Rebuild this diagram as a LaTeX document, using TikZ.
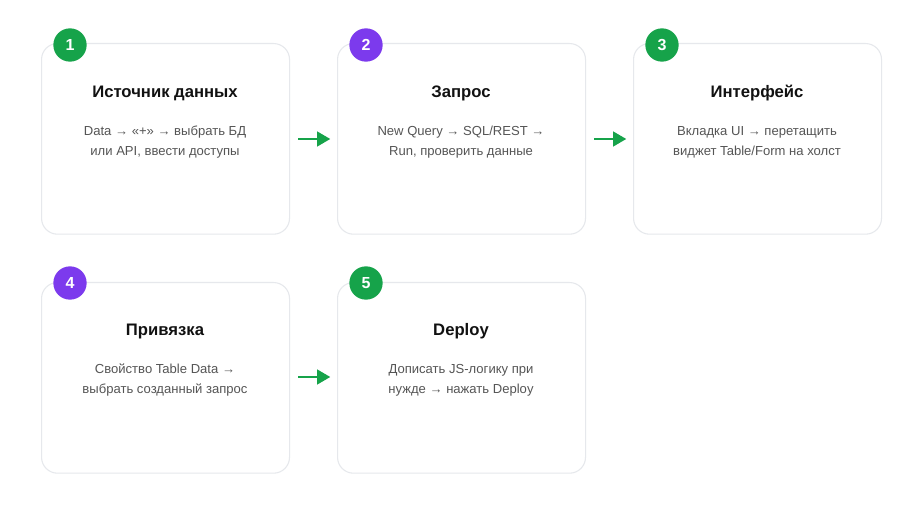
\documentclass[tikz,border=0pt]{standalone}
\usepackage{fontspec}
\setmainfont{Liberation Sans}
\usetikzlibrary{arrows.meta, positioning}
\definecolor{stepgreen}{RGB}{22,163,74}
\definecolor{steppurple}{RGB}{124,58,237}
\definecolor{cardline}{RGB}{230,232,236}
\definecolor{titletext}{RGB}{17,17,17}
\definecolor{bodytext}{RGB}{85,85,85}
\tikzset{
  card/.style={draw=cardline, line width=0.8pt, fill=white, rounded corners=12pt,
    minimum width=186pt, minimum height=143pt, anchor=north west},
  badge/.style={circle, fill=#1, text=white, font=\bfseries\fontsize{12}{14}\selectfont,
    minimum size=25pt, inner sep=0pt},
  title/.style={font=\bfseries\fontsize{12.5}{14}\selectfont, text=titletext},
  body/.style={font=\fontsize{9.8}{15}\selectfont, text=bodytext, align=center},
  flow/.style={-{Triangle[length=10pt,width=11pt]}, line width=2pt, stepgreen, shorten <=6pt, shorten >=5pt}
}
\begin{document}
\begin{tikzpicture}[x=0.75pt, y=-0.75pt]
    \useasboundingbox[fill=white] (0,0) rectangle (922,516);
    % Cards
    \node[card] (c1) at (41,43) {};
    \node[card] (c2) at (337,43) {};
    \node[card] (c3) at (633,43) {};
    \node[card] (c4) at (41,282) {};
    \node[card] (c5) at (337,282) {};
    % Badges
    \node[badge=stepgreen] (b1) at (70,45) {1};
    \node[badge=steppurple] (b2) at (366,45) {2};
    \node[badge=stepgreen] (b3) at (662,45) {3};
    \node[badge=steppurple] (b4) at (70,283) {4};
    \node[badge=stepgreen] (b5) at (366,283) {5};
    % Titles
    \node[title] (t1) at (165,93) {Источник данных};
    \node[title] (t2) at (461,93) {Запрос};
    \node[title] (t3) at (757,93) {Интерфейс};
    \node[title] (t4) at (165,331) {Привязка};
    \node[title] (t5) at (461,331) {Deploy};
    % Descriptions
    \node[body] (d1) at (165,142) {Data → «+» → выбрать БД\\или API, ввести доступы};
    \node[body] (d2) at (461,142) {New Query → SQL/REST →\\Run, проверить данные};
    \node[body] (d3) at (757,142) {Вкладка UI → перетащить\\виджет Table/Form на холст};
    \node[body] (d4) at (165,380) {Свойство Table Data →\\выбрать созданный запрос};
    \node[body] (d5) at (461,380) {Дописать JS-логику при\\нужде → нажать Deploy};
    % Flow
    \draw[flow] (c1.east |- 0,139) -- (c2.west |- 0,139);
    \draw[flow] (c2.east |- 0,139) -- (c3.west |- 0,139);
    \draw[flow] (c4.east |- 0,377) -- (c5.west |- 0,377);
\end{tikzpicture}
\end{document}
